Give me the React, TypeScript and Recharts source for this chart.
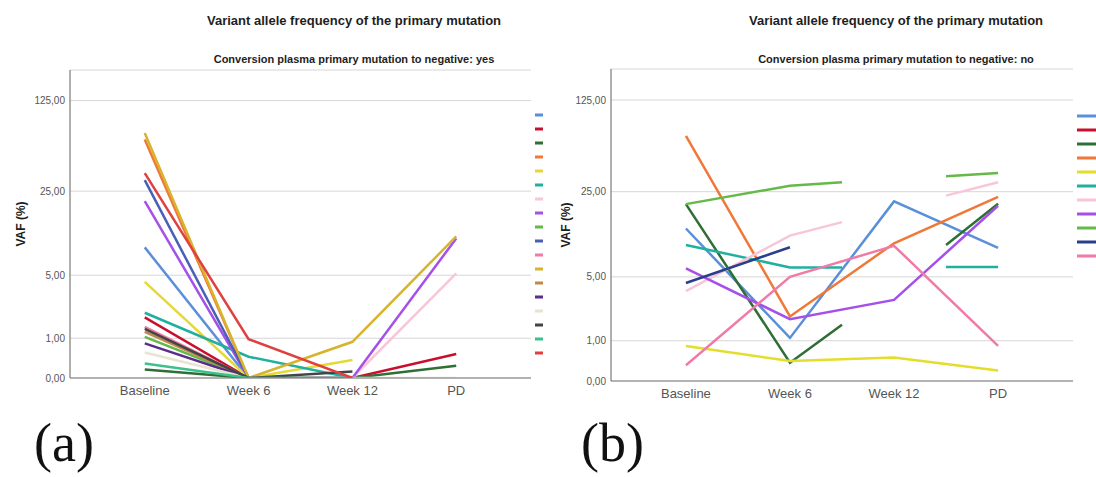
import React from "react";
import { LineChart, Line, XAxis, YAxis, CartesianGrid } from "recharts";

const categories = ["Baseline", "Week 6", "Week 12", "PD"];
const yTickValues = [0, 1, 5, 25, 125];
const yTickLabels = ["0,00", "1,00", "5,00", "25,00", "125,00"];

// Panel (a): conversion to negative = yes. VAF (%) at Baseline, Week 6, Week 12, PD
const aBlue = [8.75, 0, null, null];
const aCrimson = [1.88, 0, 0, 0.52];
const aDarkGreen = [0.16, 0, 0, 0.24];
const aOrange = [63, 0, null, null];
const aYellow = [4.35, 0, 0.37, null];
const aTeal = [2.12, 0.45, 0, null];
const aLightPink = [null, null, 0, 5.2];
const aPurple = [20.8, 0, 0, 10.4];
const aGreen = [1.05, 0, null, null];
const aIndigo = [30.5, 0, null, null];
const aPink = [1.44, 0, null, null];
const aGold = [70.5, 0, 0.88, 10.8];
const aTan = [1.24, 0, null, null];
const aDarkPurple = [0.83, 0, null, null];
const aBeige = [0.56, 0, 0, 0];
const aDarkGray = [1.35, 0, 0.12, null];
const aMint = [0.29, 0, 0, null];
const aRed = [34.6, 0.97, 0, null];

const aSeries = [aBlue, aCrimson, aDarkGreen, aOrange, aYellow, aTeal, aLightPink, aPurple, aGreen,
  aIndigo, aPink, aGold, aTan, aDarkPurple, aBeige, aDarkGray, aMint, aRed];
const aColors = ["#5b8fd9", "#c8102e", "#2f6e35", "#f07838", "#e6d838", "#20b0a0", "#f7c6da", "#a550e8",
  "#66b848", "#4a5fb5", "#f07aa8", "#d8b42c", "#c08850", "#5a2d8a", "#e8e4d0", "#444444", "#3cc08c", "#e04040"];

// Panel (b): conversion to negative = no. VAF (%) at Baseline, Week 6, Week 12, PD
const bBlue = [12.8, 1.1, 21, 8.9];
const bCrimson = [null, null, null, null];
const bDarkGreen = [20.0, 0.37, null, 20.1];
const bOrange = [67, 2.04, 9.7, 22.8];
const bYellow = [0.83, 0.41, 0.5, 0.2];
const bTeal = [9.4, 6.06, null, 6.1];
const bLightPink = [3.7, 11.2, null, 29.6];
const bPurple = [5.94, 1.9, 3.04, 19.4];
const bGreen = [20.0, 27.8, null, 34.9];
const bNavy = [4.4, 9.0, null, null];
const bPink = [0.31, 5.0, 9.25, 0.83];
// values where the drawn segments stop half-way (between Week 6/Week 12, and Week 12/PD)
const bDarkGreenHalf = [1.63, 9.4];
const bTealHalf = [6.06, 6.1];
const bLightPinkHalf = [14.4, 23.3];
const bGreenHalf = [29.6, 32.9];

const bSeries = [bBlue, bCrimson, bDarkGreen, bOrange, bYellow, bTeal, bLightPink, bPurple, bGreen, bNavy, bPink];
const bHalves = [null, null, bDarkGreenHalf, null, null, bTealHalf, bLightPinkHalf, null, bGreenHalf, null, null];
const bColors = ["#5b8fd9", "#c8102e", "#2f6e35", "#f07838", "#e3de2a", "#20b0a0", "#f7c6da", "#a550e8",
  "#66b848", "#2a3f8a", "#f07aa8"];

const tf = (v: number | null) => (v === null || v === undefined ? null : Math.log(v + 1));
const yTicks = yTickValues.map((v) => Math.log(v + 1));
const yFmt = (v: number) => {
  const i = yTicks.findIndex((t) => Math.abs(t - v) < 1e-6);
  return i >= 0 ? yTickLabels[i] : "";
};
const xFmt = (v: number) => categories[Math.round(v)] ?? "";

const aTable = categories.map((_, i) => {
  const row: Record<string, number | null> = { x: i };
  aSeries.forEach((s, k) => (row["s" + k] = tf(s[i])));
  return row;
});

const bXs = [0, 1, 1.5, 2, 2.5, 3];
const bTable = bXs.map((x) => {
  const row: Record<string, number | null> = { x };
  bSeries.forEach((s, k) => {
    if (Number.isInteger(x)) row["s" + k] = tf(s[x]);
    else {
      const h = bHalves[k];
      row["s" + k] = h ? tf(h[x === 1.5 ? 0 : 1]) : null;
    }
  });
  return row;
});

const FONT = '"Liberation Sans", Arial, sans-serif';

function Panel({ table, colors, halves, width, height, margin, yWidth }: any) {
  return (
    <LineChart width={width} height={height} data={table} margin={margin}>
      <CartesianGrid vertical={false} stroke="#d6d6d6" strokeWidth={1} />
      <XAxis
        type="number"
        dataKey="x"
        domain={[-0.72, 3.72]}
        ticks={[0, 1, 2, 3]}
        allowDataOverflow
        tickFormatter={xFmt}
        tickLine={false}
        tickSize={0}
        tickMargin={8}
        height={30}
        axisLine={{ stroke: "#7a7a7a", strokeWidth: 1.2 }}
        tick={{ fontSize: 13, fill: "#555", fontFamily: FONT }}
      />
      <YAxis
        type="number"
        domain={[0, 5.37]}
        ticks={yTicks}
        allowDataOverflow
        tickFormatter={yFmt}
        tickLine={false}
        tickSize={0}
        tickMargin={5}
        width={yWidth}
        axisLine={{ stroke: "#7a7a7a", strokeWidth: 1.2 }}
        tick={{ fontSize: 10, fill: "#555", fontFamily: FONT }}
      />
      {colors.map((c: string, k: number) => (
        <Line
          key={k}
          dataKey={"s" + k}
          stroke={c}
          strokeWidth={2.5}
          dot={false}
          activeDot={false}
          type="linear"
          connectNulls={!(halves && halves[k])}
          isAnimationActive={false}
        />
      ))}
    </LineChart>
  );
}

export default function App() {
  return (
    <div style={{ position: "absolute", left: 0, top: 0, width: 1096, height: 477, background: "#fff", overflow: "hidden" }}>
      <div style={{ position: "absolute", left: 0, top: 0 }}>
        <Panel table={aTable} colors={aColors} width={548} height={477}
          margin={{ top: 70, right: 17, bottom: 69, left: 0 }} yWidth={70} />
      </div>
      <div style={{ position: "absolute", left: 548, top: 0 }}>
        <Panel table={bTable} colors={bColors} halves={bHalves} width={548} height={477}
          margin={{ top: 69, right: 23, bottom: 66, left: 0 }} yWidth={63} />
      </div>
      <svg width={1096} height={477} style={{ position: "absolute", left: 0, top: 0, pointerEvents: "none" }}>
        <g fontFamily={FONT} fill="#1e1e1e" fontWeight="bold" textAnchor="middle">
          <text x={354} y={25} fontSize={13}>Variant allele frequency of the primary mutation</text>
          <text x={354} y={63} fontSize={11}>Conversion plasma primary mutation to negative: yes</text>
          <text x={896} y={25} fontSize={13}>Variant allele frequency of the primary mutation</text>
          <text x={896} y={63} fontSize={11}>Conversion plasma primary mutation to negative: no</text>
          <text transform="translate(25,224) rotate(-90)" fontSize={12}>VAF (%)</text>
          <text transform="translate(570,225) rotate(-90)" fontSize={12}>VAF (%)</text>
        </g>
        <g fontFamily='"Liberation Serif", "Times New Roman", serif' fill="#111" fontSize={54}>
          <text x={34} y={461}>(a)</text>
          <text x={581} y={461}>(b)</text>
        </g>
        {aColors.map((c, i) => (
          <rect key={"la" + i} x={535} y={113.5 + i * 14} width={8} height={3} fill={c} />
        ))}
        {bColors.map((c, i) => (
          <rect key={"lb" + i} x={1077} y={114.5 + i * 14} width={19} height={3} fill={c} />
        ))}
      </svg>
    </div>
  );
}
